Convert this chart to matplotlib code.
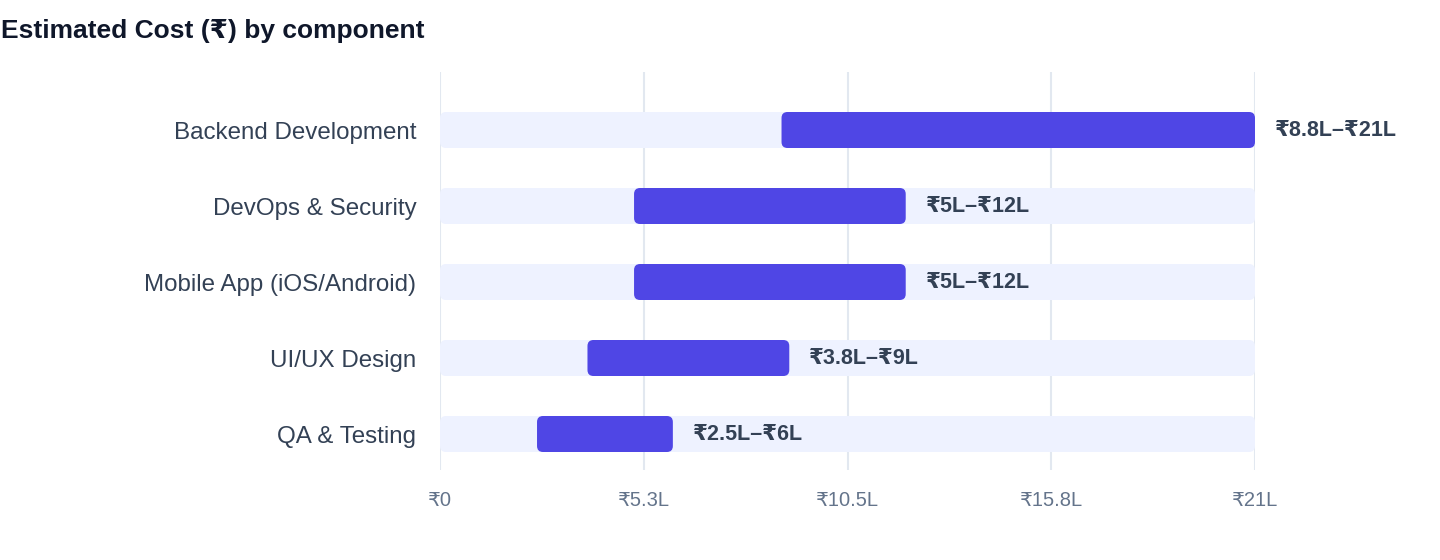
import matplotlib.pyplot as plt
from matplotlib.patches import FancyBboxPatch

# cost ranges in lakh rupees
components = ['Backend Development', 'DevOps & Security', 'Mobile App (iOS/Android)',
              'UI/UX Design', 'QA & Testing']
low = [8.8, 5, 5, 3.8, 2.5]
high = [21, 12, 12, 9, 6]
labels = ['₹8.8L–₹21L', '₹5L–₹12L', '₹5L–₹12L', '₹3.8L–₹9L', '₹2.5L–₹6L']
x_max = 21
tick_vals = [0, 5.25, 10.5, 15.75, 21]
tick_labels = ['₹0', '₹5.3L', '₹10.5L', '₹15.8L', '₹21L']

plt.rcParams['font.family'] = ['Liberation Sans', 'DejaVu Sans']

fig = plt.figure(figsize=(14.4, 5.6), dpi=100)
ax = fig.add_axes([440 / 1440, 90 / 560, 815 / 1440, 398 / 560])

bar_h = 36 / 76
px_x = 815 / x_max   # pixels per unit on x
px_y = 76            # pixels per category
rad = 6 / px_x
aspect = (6 / px_y) / rad

for i, (lo, hi, lab) in enumerate(zip(low, high, labels)):
    bg = FancyBboxPatch((0, i - bar_h / 2), x_max, bar_h,
                        boxstyle=f'round,pad=0,rounding_size={rad}',
                        mutation_aspect=aspect, fc='#eef2ff', ec='none', zorder=2)
    ax.add_patch(bg)
    fg = FancyBboxPatch((lo, i - bar_h / 2), hi - lo, bar_h,
                        boxstyle=f'round,pad=0,rounding_size={rad}',
                        mutation_aspect=aspect, fc='#4f46e5', ec='none', zorder=3)
    ax.add_patch(fg)
    ax.text(hi + 20 / px_x, i, lab, va='center', ha='left', fontsize=15.5,
            fontweight='bold', color='#334155', zorder=4)

ax.set_xlim(0, x_max)
ax.set_ylim(len(components) - 1 + 36 / 76, -58 / 76)
ax.set_yticks(range(len(components)))
ax.set_yticklabels(components, fontsize=17.4, color='#334155')
ax.set_xticks(tick_vals)
ax.set_xticklabels(tick_labels, fontsize=14.5, color='#64748b')
ax.tick_params(axis='both', length=0)
ax.tick_params(axis='x', pad=15)
ax.tick_params(axis='y', pad=17)
ax.grid(axis='x', color='#e2e8f0', linewidth=1.5, zorder=0)
ax.set_axisbelow(True)
for s in ax.spines.values():
    s.set_visible(False)

fig.text(1 / 1440, 1 - 31 / 560, 'Estimated Cost (₹) by component', fontsize=19,
         fontweight='bold', color='#0f172a', va='center', ha='left')

fig.savefig('out.png', dpi=100, facecolor='white')
